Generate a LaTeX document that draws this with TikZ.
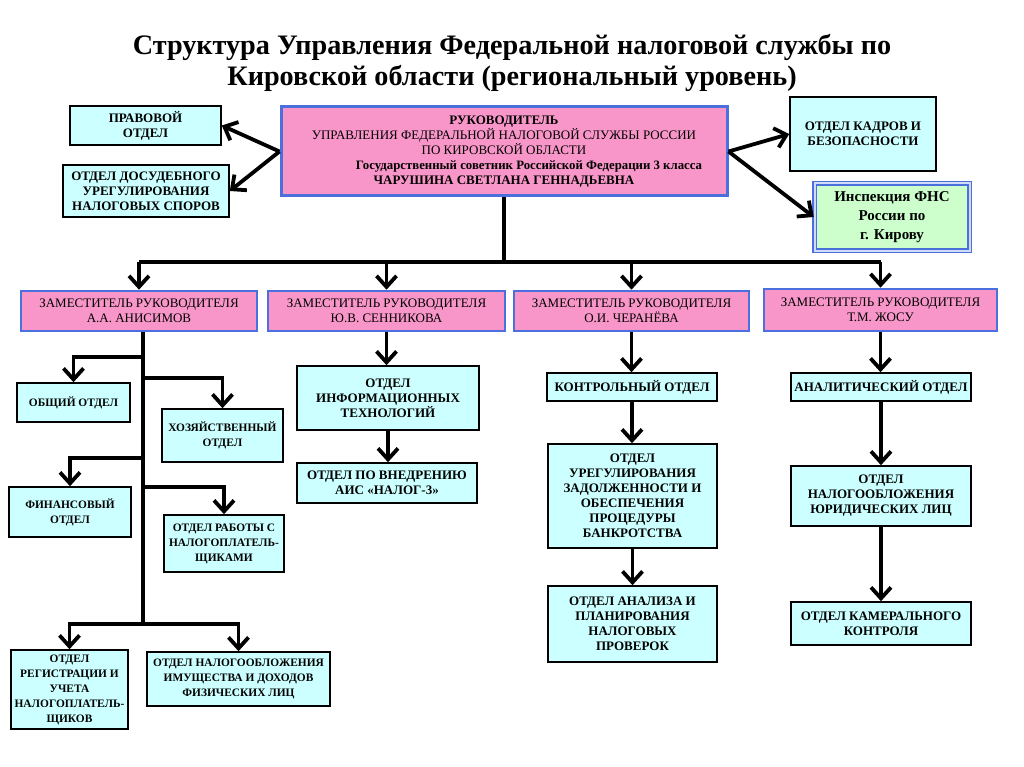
\documentclass[tikz,border=0pt]{standalone}
\usepackage{fontspec}
\setmainfont{Liberation Serif}
\usetikzlibrary{arrows.meta}
\definecolor{deptcyan}{HTML}{CCFFFF}
\definecolor{deppink}{HTML}{F996C9}
\definecolor{bordblue}{HTML}{4B6FDC}
\definecolor{inspgreen}{HTML}{CCFFCC}
\tikzset{
  dept/.style={draw=black, line width=1.6pt, fill=deptcyan, align=center,
    font=\fontsize{13}{15}\selectfont\bfseries, inner sep=1pt},
  deptsm/.style={dept, font=\fontsize{11.4}{15}\selectfont\bfseries},
  deputy/.style={draw=bordblue, line width=2.6pt, fill=deppink, align=center,
    font=\fontsize{13}{15}\selectfont, minimum height=40pt},
  headbox/.style={draw=bordblue, line width=3pt, fill=deppink, align=center,
    font=\fontsize{13}{15}\selectfont},
  inspbox/.style={draw=bordblue, line width=1.5pt, double=bordblue!25, double distance=2pt,
    fill=inspgreen, align=center, font=\fontsize{15}{19}\selectfont\bfseries},
  line/.style={line width=3.8pt},
  link/.style={line width=3.8pt, -{Straight Barb[length=11pt,width=20pt]}},
}
\begin{document}
\begin{tikzpicture}[x=1pt, y=-1pt]
\fill[white] (0,0) rectangle (1024,767);
\useasboundingbox (0,0) rectangle (1024,767);

% title
\node[align=center, font=\fontsize{28.2}{31}\selectfont\bfseries] (title) at (512,63)
  {Структура Управления Федеральной налоговой службы по\\
   Кировской области (региональный уровень)};

% head and the offices next to it
\node[headbox, minimum width=446pt, minimum height=89pt] (head) at (504,151.5)
  {\textbf{РУКОВОДИТЕЛЬ}\\
   УПРАВЛЕНИЯ ФЕДЕРАЛЬНОЙ НАЛОГОВОЙ СЛУЖБЫ РОССИИ\\
   ПО КИРОВСКОЙ ОБЛАСТИ\\
   \hspace*{50pt}{\bfseries\fontsize{12.8}{15}\selectfont Государственный советник Российской Федерации 3 класса}\\
   \textbf{ЧАРУШИНА СВЕТЛАНА ГЕННАДЬЕВНА}};
\node[dept, minimum width=151pt, minimum height=39pt] (pravo) at (145.5,125.5) {ПРАВОВОЙ\\ОТДЕЛ};
\node[dept, minimum width=166pt, minimum height=52pt] (dosud) at (146,191)
  {ОТДЕЛ ДОСУДЕБНОГО\\УРЕГУЛИРОВАНИЯ\\НАЛОГОВЫХ СПОРОВ};
\node[dept, minimum width=146pt, minimum height=74pt] (kadry) at (863,134) {ОТДЕЛ КАДРОВ И\\БЕЗОПАСНОСТИ};
\node[inspbox, minimum width=155pt, minimum height=67pt] (insp) at (892,217) {Инспекция ФНС\\России по\\г. Кирову};

\draw[link] (head.west) -- (pravo.east);
\draw[link] (head.west) -- (dosud.east);
\draw[link] (head.east) -- (kadry.west);
\draw[link] (head.east) -- (insp.west);

% deputies
\node[deputy, minimum width=236pt] (dep1) at (139,311) {ЗАМЕСТИТЕЛЬ РУКОВОДИТЕЛЯ\\А.А. АНИСИМОВ};
\node[deputy, minimum width=237pt] (dep2) at (386.5,311) {ЗАМЕСТИТЕЛЬ РУКОВОДИТЕЛЯ\\Ю.В. СЕННИКОВА};
\node[deputy, minimum width=235pt] (dep3) at (631.5,311) {ЗАМЕСТИТЕЛЬ РУКОВОДИТЕЛЯ\\О.И. ЧЕРАНЁВА};
\node[deputy, minimum width=233pt, minimum height=42pt] (dep4) at (880.5,310) {ЗАМЕСТИТЕЛЬ РУКОВОДИТЕЛЯ\\Т.М. ЖОСУ};

\coordinate (bus) at (0,262);
\draw[line] (head.south) -- (head.south |- bus);
\draw[line] (dep1.north |- bus) -- (dep4.north |- bus);
\foreach \d in {dep1,dep2,dep3,dep4}
  \draw[link] (\d.north |- bus) -- (\d.north);

% first column
\node[deptsm, minimum width=113pt, minimum height=39pt] (obsh) at (73.5,402.5) {ОБЩИЙ ОТДЕЛ};
\node[deptsm, minimum width=121pt, minimum height=53pt] (hoz) at (222.5,435.5) {ХОЗЯЙСТВЕННЫЙ\\ОТДЕЛ};
\node[deptsm, minimum width=122pt, minimum height=50pt] (fin) at (70,512) {ФИНАНСОВЫЙ\\ОТДЕЛ};
\node[deptsm, minimum width=120pt, minimum height=57pt] (rabot) at (224,543.5) {ОТДЕЛ РАБОТЫ С\\НАЛОГОПЛАТЕЛЬ-\\ЩИКАМИ};
\node[deptsm, minimum width=117pt, minimum height=79pt] (reg) at (69.5,689.5)
  {ОТДЕЛ\\РЕГИСТРАЦИИ И\\УЧЕТА\\НАЛОГОПЛАТЕЛЬ-\\ЩИКОВ};
\node[deptsm, minimum width=183pt, minimum height=54pt] (imush) at (238.5,679)
  {ОТДЕЛ НАЛОГООБЛОЖЕНИЯ\\ИМУЩЕСТВА И ДОХОДОВ\\ФИЗИЧЕСКИХ ЛИЦ};

\coordinate (trunk) at (143,624);
\draw[line] (trunk |- dep1.south) -- (trunk);
\draw[link] (trunk |- 0,357) -| (obsh.north);
\draw[link] (trunk |- 0,378) -| (hoz.north);
\draw[link] (trunk |- 0,458) -| (fin.north);
\draw[link] (trunk |- 0,487) -| (rabot.north);
\draw[link] (trunk) -| (reg.north);
\draw[link] (trunk) -| (imush.north);

% second column
\node[dept, minimum width=182pt, minimum height=64pt] (it) at (388,398) {ОТДЕЛ\\ИНФОРМАЦИОННЫХ\\ТЕХНОЛОГИЙ};
\node[dept, minimum width=180pt, minimum height=40pt] (vnedr) at (387,483) {ОТДЕЛ ПО ВНЕДРЕНИЮ\\АИС «НАЛОГ-3»};
\draw[link] (dep2.south) -- (dep2.south |- it.north);
\draw[link] (it.south) -- (it.south |- vnedr.north);

% third column
\node[dept, minimum width=170pt, minimum height=28pt] (kontr) at (632,387) {КОНТРОЛЬНЫЙ ОТДЕЛ};
\node[dept, minimum width=169pt, minimum height=104pt] (uregul) at (632.5,496)
  {ОТДЕЛ\\УРЕГУЛИРОВАНИЯ\\ЗАДОЛЖЕННОСТИ И\\ОБЕСПЕЧЕНИЯ\\ПРОЦЕДУРЫ\\БАНКРОТСТВА};
\node[dept, minimum width=169pt, minimum height=76pt] (analiz) at (632.5,624)
  {ОТДЕЛ АНАЛИЗА И\\ПЛАНИРОВАНИЯ\\НАЛОГОВЫХ\\ПРОВЕРОК};
\draw[link] (dep3.south) -- (dep3.south |- kontr.north);
\draw[link] (kontr.south) -- (kontr.south |- uregul.north);
\draw[link] (uregul.south) -- (uregul.south |- analiz.north);

% fourth column
\node[dept, minimum width=180pt, minimum height=28pt] (analit) at (881,387) {АНАЛИТИЧЕСКИЙ ОТДЕЛ};
\node[dept, minimum width=180pt, minimum height=60pt] (yur) at (881,496)
  {ОТДЕЛ\\НАЛОГООБЛОЖЕНИЯ\\ЮРИДИЧЕСКИХ ЛИЦ};
\node[dept, minimum width=180pt, minimum height=43pt] (kamer) at (881,623.5) {ОТДЕЛ КАМЕРАЛЬНОГО\\КОНТРОЛЯ};
\draw[link] (dep4.south) -- (dep4.south |- analit.north);
\draw[link] (analit.south) -- (analit.south |- yur.north);
\draw[link] (yur.south) -- (yur.south |- kamer.north);

\end{tikzpicture}
\end{document}
